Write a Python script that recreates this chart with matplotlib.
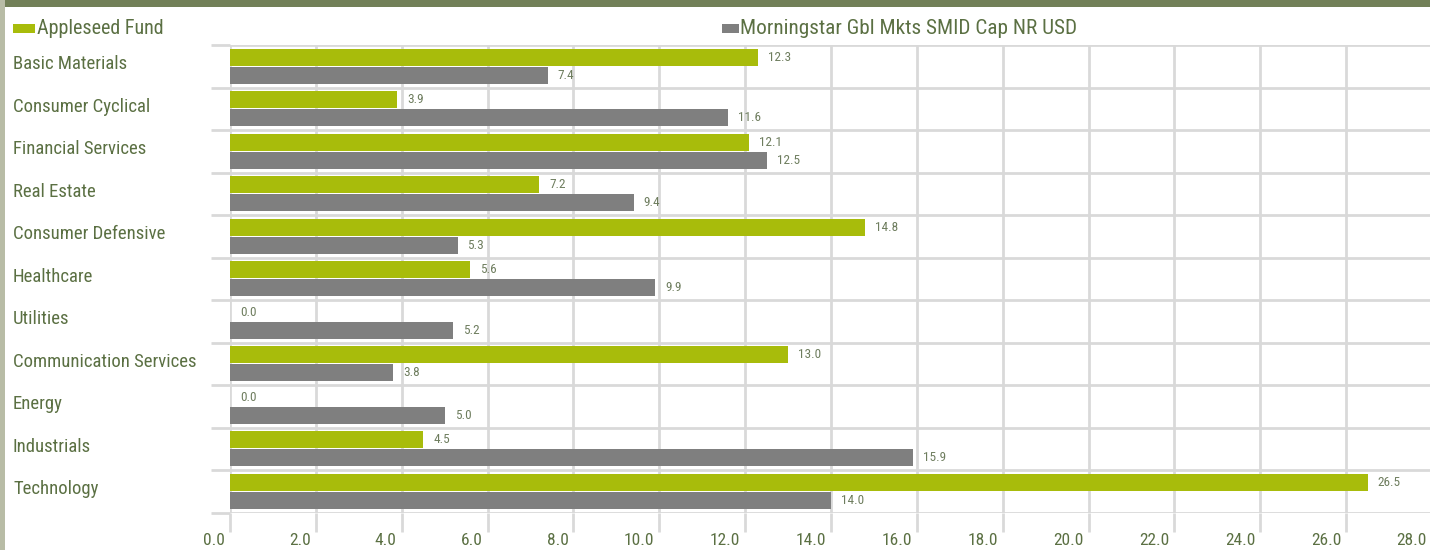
import matplotlib
matplotlib.use("Agg")
import matplotlib.pyplot as plt
from matplotlib.patches import Rectangle
from matplotlib.transforms import blended_transform_factory, ScaledTranslation
from matplotlib import font_manager

categories = ["Basic Materials", "Consumer Cyclical", "Financial Services", "Real Estate",
              "Consumer Defensive", "Healthcare", "Utilities", "Communication Services",
              "Energy", "Industrials", "Technology"]
fund = [12.3, 3.9, 12.1, 7.2, 14.8, 5.6, 0.0, 13.0, 0.0, 4.5, 26.5]
bench = [7.4, 11.6, 12.5, 9.4, 5.3, 9.9, 5.2, 3.8, 5.0, 15.9, 14.0]
series_names = ["Appleseed Fund", "Morningstar Gbl Mkts SMID Cap NR USD"]
xticks = [0, 2, 4, 6, 8, 10, 12, 14, 16, 18, 20, 22, 24, 26, 28]

names = {f.name for f in font_manager.fontManager.ttflist}
fam = [n for n in ["Liberation Sans Narrow", "Roboto Condensed", "DejaVu Sans"] if n in names]
plt.rcParams['font.family'] = fam
stretch = 'condensed'

GREEN = "#A8BC0B"
GRAY = "#7F7F7F"
TXT = "#5B7043"
VTXT = "#6E7D5E"
GRID = "#D9D9D9"

W, H = 1430, 550
fig = plt.figure(figsize=(W / 100, H / 100), dpi=100)
fig.patch.set_facecolor("white")

def fx(px):
    return px / W

def fy(py):
    return 1 - py / H

ax = fig.add_axes([fx(230), fy(512.5), fx(1432) - fx(230), fy(45) - fy(512.5)])
n = len(categories)
ys = list(range(n))
h = 0.40
ax.barh([y - 0.21 for y in ys], fund, height=h, color=GREEN, zorder=3)
ax.barh([y + 0.21 for y in ys], bench, height=h, color=GRAY, zorder=3)
ax.set_xlim(0, 28)
ax.set_ylim(n - 0.5, -0.5)

for s in ax.spines.values():
    s.set_visible(False)

ax.set_xticks(xticks)
ax.set_xticklabels([f"{v:.1f}" for v in xticks], ha='right', fontstretch=stretch)
ax.set_yticks([])
ax.set_yticks([y - 0.5 for y in range(n + 1)], minor=True)
ax.tick_params(axis='x', length=14, width=2, color=GRID, labelcolor=TXT, labelsize=12.5, pad=0.5)
ax.tick_params(axis='y', which='minor', length=14, width=2, color=GRID)
ax.grid(axis='x', color=GRID, linewidth=2, zorder=0)
ax.grid(axis='y', which='minor', color=GRID, linewidth=2, zorder=0)
ax.set_axisbelow(True)
off = ScaledTranslation(-0.05, 0, fig.dpi_scale_trans)
for lab in ax.get_xticklabels():
    lab.set_transform(lab.get_transform() + off)

for y, v in zip(ys, fund):
    ax.annotate(f"{v:.1f}", (v, y - 0.21), xytext=(10, 0), textcoords='offset pixels',
                va='center', ha='left', fontsize=9.5, color=VTXT, fontstretch=stretch)
for y, v in zip(ys, bench):
    ax.annotate(f"{v:.1f}", (v, y + 0.21), xytext=(10, 0), textcoords='offset pixels',
                va='center', ha='left', fontsize=9.5, color=VTXT, fontstretch=stretch)

tr = blended_transform_factory(fig.transFigure, ax.transData)
for y, c in zip(ys, categories):
    ax.text(fx(13), y - 0.05, c, transform=tr, ha='left', va='center', fontsize=13.5,
            color=TXT, fontstretch=stretch, clip_on=False)

# decoration: header band and left strip
fig.add_artist(Rectangle((fx(5), fy(7)), 1, fy(0) - fy(7), transform=fig.transFigure,
                         color="#728058", lw=0))
fig.add_artist(Rectangle((0, 0), fx(5), 1, transform=fig.transFigure, color="#B8BCA6", lw=0))

# legend
fig.add_artist(Rectangle((fx(13), fy(33)), fx(35) - fx(13), fy(24) - fy(33),
                         transform=fig.transFigure, color=GREEN, lw=0))
fig.text(fx(37), fy(29), series_names[0], ha='left', va='center', fontsize=14.5, color=TXT,
         fontstretch=stretch)
fig.add_artist(Rectangle((fx(722), fy(33)), fx(739) - fx(722), fy(24) - fy(33),
                         transform=fig.transFigure, color=GRAY, lw=0))
fig.text(fx(740), fy(29), series_names[1], ha='left', va='center', fontsize=15.3, color=TXT,
         fontstretch=stretch)

fig.savefig("out.png", dpi=100, facecolor="white")
